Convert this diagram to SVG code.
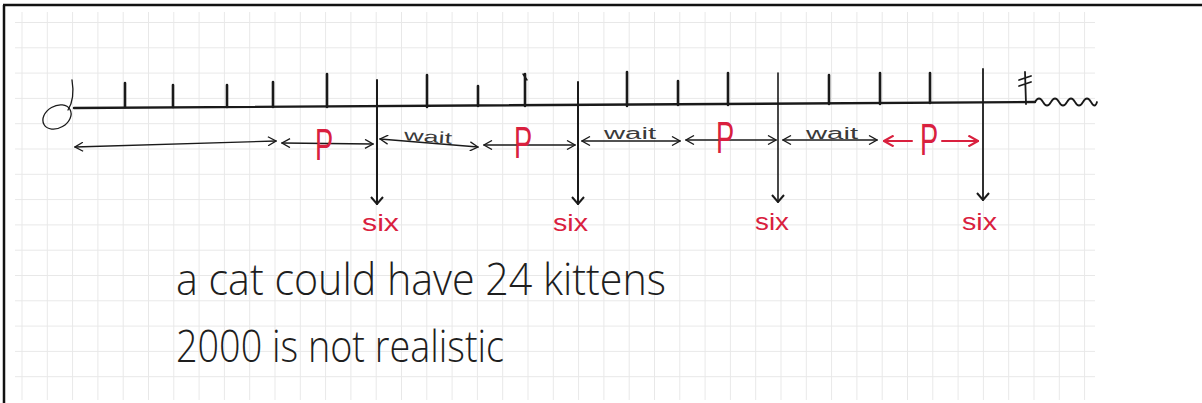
<svg xmlns="http://www.w3.org/2000/svg" width="1202" height="403" viewBox="0 0 1202 403">
<style>
.ink{stroke:#1a1a1a;fill:none;stroke-linecap:round;stroke-linejoin:round}
.axis{stroke-width:2.4}
.tick{stroke-width:2.6}
.thin{stroke-width:1.3}
.red{stroke:#d9203e;fill:none;stroke-width:2;stroke-linecap:round;stroke-linejoin:round}
.six{font-family:"Liberation Sans",Arial,sans-serif;font-size:24px;fill:#d9203e}
.p{font-family:"Liberation Sans",Arial,sans-serif;font-size:44px;fill:#d9203e}
.wait{font-family:"Liberation Sans",Arial,sans-serif;font-size:16px;fill:#3a3a3a}
.note{font-family:"Open Sans","Liberation Sans",sans-serif;font-weight:300;font-size:44px;fill:#1e1e1e}
</style>
<defs>
<pattern id="grid" patternUnits="userSpaceOnUse" x="21.5" y="22" width="25.3" height="25.3">
<path d="M0 0.5H25.3M0.5 0V25.3" stroke="#e8e8e8" stroke-width="1" fill="none"/>
</pattern>
<marker id="chev" viewBox="0 0 10 10" refX="9" refY="5" markerWidth="10" markerHeight="10" markerUnits="userSpaceOnUse" orient="auto-start-reverse">
<path d="M1 0.5L9 5L1 9.5" fill="none" stroke="#1a1a1a" stroke-width="1.3"/>
</marker>
<marker id="chevR" viewBox="0 0 10 10" refX="9" refY="5" markerWidth="12" markerHeight="12" markerUnits="userSpaceOnUse" orient="auto-start-reverse">
<path d="M1 0.5L9 5L1 9.5" fill="none" stroke="#d9203e" stroke-width="1.8"/>
</marker>
<marker id="down" viewBox="0 0 14 14" refX="7" refY="13" markerWidth="14" markerHeight="14" markerUnits="userSpaceOnUse" orient="0">
<path d="M1 6L7 13L13 6" fill="none" stroke="#1a1a1a" stroke-width="2"/>
</marker>
</defs>
<rect width="1202" height="403" fill="#ffffff"/>
<rect x="15" y="12" width="1080" height="388" fill="url(#grid)"/>
<path d="M3 5H1202M4 5V403" stroke="#111" stroke-width="2.5" fill="none"/>

<g id="zero">
<ellipse cx="57" cy="117" rx="15" ry="11" transform="rotate(-30 57 117)" class="ink thin"/>
<path d="M72 80C74 92 73 102 68 110" class="ink thin"/>
</g>

<g id="axis">
<path d="M74 108L1035 102" class="ink axis"/>
<path d="M1025 72L1026 104M1019 80L1031 76M1019 86L1031 82" class="ink" stroke-width="1.8"/>
<path d="M1035 102q4 -7 8 0t8 0t8 0t8 0t8 0t8 0t8 0t6 0" class="ink" stroke-width="1.8"/>
<path class="ink tick" d="M125 83V107M173 85V107M227 85V107M273 82V107M327 74V107M427 75V107M478 86V106M525 74V106M627 72V106M678 81V105M728 73V105M829 75V104M880 73V104M930 73V103"/>
<path d="M523 74L527 80" class="ink" stroke-width="1.5"/>
</g>

<g id="events" class="ink">
<path d="M377 80V204" stroke-width="2" marker-end="url(#down)"/>
<path d="M578 82V204" stroke-width="2" marker-end="url(#down)"/>
<path d="M778 73V202" stroke-width="1.6" marker-end="url(#down)"/>
<path d="M983 69V200" stroke-width="1.8" marker-end="url(#down)"/>
</g>

<g id="intervals" class="ink thin">
<path d="M75 147L276 141" marker-start="url(#chev)" marker-end="url(#chev)"/>
<path d="M282 143L373 144" marker-start="url(#chev)" marker-end="url(#chev)"/>
<path d="M380 139L478 147" marker-start="url(#chev)" marker-end="url(#chev)"/>
<path d="M484 145L575 145" marker-start="url(#chev)" marker-end="url(#chev)"/>
<path d="M582 141L680 141" marker-start="url(#chev)" marker-end="url(#chev)"/>
<path d="M686 140L776 140" marker-start="url(#chev)" marker-end="url(#chev)"/>
<path d="M783 140L877 140" marker-start="url(#chev)" marker-end="url(#chev)"/>
</g>
<g id="lastP">
<path d="M884 141L912 141" class="red" marker-start="url(#chevR)"/>
<path d="M942 141L978 141" class="red" marker-end="url(#chevR)"/>
<text class="p" x="0" y="155" transform="translate(920 0) scale(0.62 1)">P</text>
</g>

<g id="labels">
<text class="p" x="0" y="160" transform="translate(315 0) scale(0.62 1)">P</text>
<text class="p" x="0" y="158" transform="translate(514 0) scale(0.62 1)">P</text>
<text class="p" x="0" y="153" transform="translate(716 0) scale(0.62 1)">P</text>
<text class="wait" x="404" y="142" transform="rotate(4 428 138)" textLength="48" lengthAdjust="spacingAndGlyphs">wait</text>
<text class="wait" x="604" y="139" textLength="52" lengthAdjust="spacingAndGlyphs">wait</text>
<text class="wait" x="806" y="139" textLength="52" lengthAdjust="spacingAndGlyphs">wait</text>
</g>

<g id="six-labels">
<text class="six" x="362" y="231" textLength="37" lengthAdjust="spacingAndGlyphs">six</text>
<text class="six" x="553" y="231" textLength="35" lengthAdjust="spacingAndGlyphs">six</text>
<text class="six" x="755" y="230" textLength="34" lengthAdjust="spacingAndGlyphs">six</text>
<text class="six" x="962" y="230" textLength="35" lengthAdjust="spacingAndGlyphs">six</text>
</g>

<g id="notes">
<text class="note" x="176" y="295" textLength="490" lengthAdjust="spacingAndGlyphs">a cat could have 24 kittens</text>
<text class="note" x="176" y="362" textLength="328" lengthAdjust="spacingAndGlyphs">2000 is not realistic</text>
</g>
</svg>
